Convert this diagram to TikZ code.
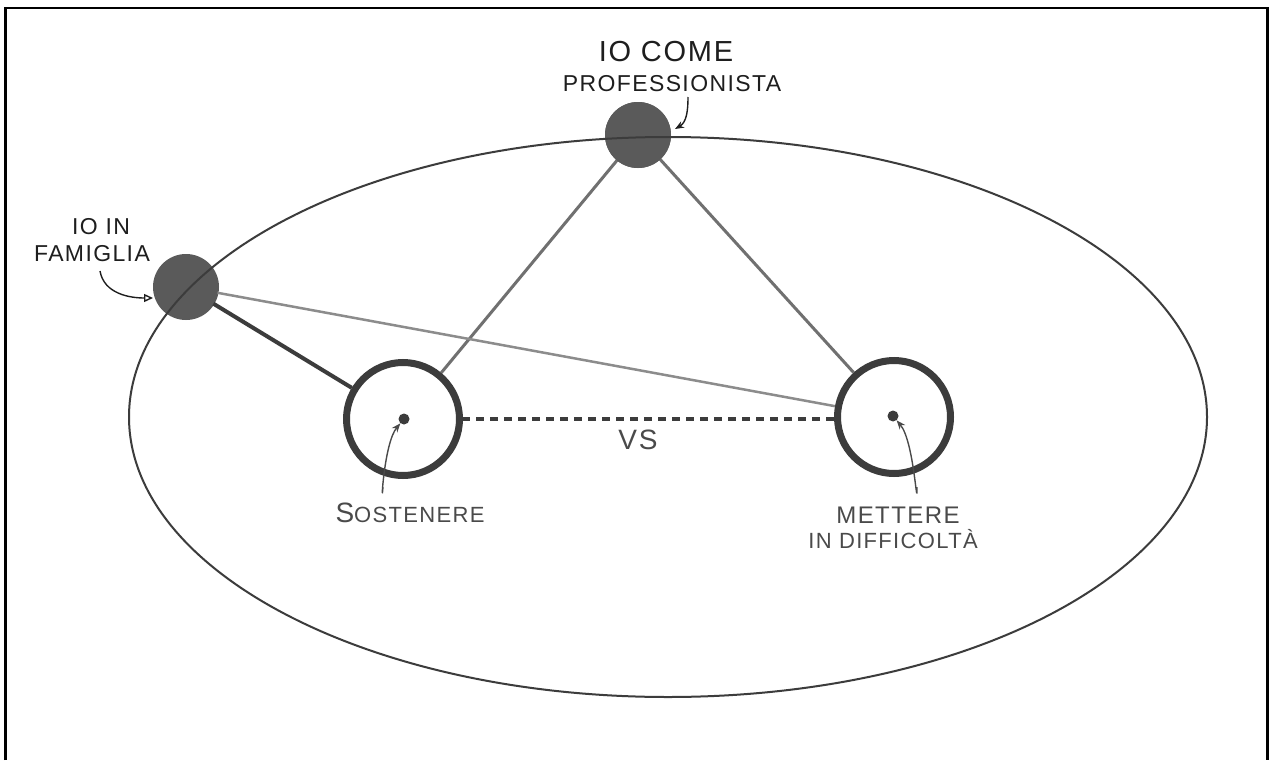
\documentclass[tikz,border=0pt]{standalone}
\usepackage{fontspec}
\setmainfont{Liberation Sans}
\newfontfamily\hand[LetterSpace=6]{Liberation Sans}
\usetikzlibrary{arrows.meta}
\definecolor{dotgray}{HTML}{5A5A5A}
\definecolor{ringgray}{HTML}{3C3C3C}
\definecolor{linegray}{HTML}{707070}
\definecolor{lightline}{HTML}{8C8C8C}
\definecolor{ink}{HTML}{1E1E1E}
\definecolor{softink}{HTML}{4A4A4A}
\tikzset{
  bigdot/.style={circle, fill=dotgray, draw=none, minimum size=66pt, inner sep=0pt},
  ring/.style={circle, draw=ringgray, line width=7pt, minimum size=113pt, inner sep=0pt},
  smalldot/.style={circle, fill=ringgray, minimum size=11pt, inner sep=0pt},
  boldlabel/.style={font=\hand\fontsize{23}{26}\selectfont, text=ink, inner sep=0pt},
  softlabel/.style={font=\hand\fontsize{21}{24}\selectfont, text=softink, inner sep=0pt},
  pointer/.style={draw=ink, line width=1.4pt, -{Stealth[length=9pt,width=7pt]}},
}
\begin{document}
\begin{tikzpicture}[x=1pt,y=-1pt]
\useasboundingbox (0,0) rectangle (1271,760);
\fill[white] (0,0) rectangle (1271,760);
% frame
\draw[black, line width=2.5pt] (5.5,760) -- (5.5,8) -- (1267.5,8) -- (1267.5,760);

% nodes
\node[bigdot] (prof) at (638,135) {};
\node[bigdot] (fam) at (186,287) {};
\node[ring] (sost) at (403,419) {};
\node[ring] (mett) at (894,417) {};
\node[smalldot] (sdot) at (404,419) {};
\node[smalldot] (mdot) at (893,416) {};

% connectors
\draw[linegray, line width=3pt] (prof.center) -- (sost);
\draw[linegray, line width=3pt] (prof.center) -- (mett);
\draw[ringgray, line width=4pt] (fam.center) -- (sost);
\draw[lightline, line width=2.5pt] (fam.center) -- (mett);
\coordinate (dvs) at (462,419);
\coordinate (dve) at (834,419);
\draw[ringgray, line width=4pt, dash pattern=on 8pt off 6pt] (dvs) -- (dve);

% redraw circles on top of connector starts
\fill[dotgray] (prof) circle (33pt);
\fill[dotgray] (fam) circle (32pt);

% big ellipse
\draw[ringgray, line width=2pt] (668,417) ellipse [x radius=539, y radius=280];

% labels
\node[boldlabel, font=\hand\fontsize{29}{30}\selectfont] (l1a) at (666,52) {IO COME};
\node[boldlabel] (l1b) at (672,84) {PROFESSIONISTA};
\node[boldlabel] (l2a) at (101,227) {IO IN};
\node[boldlabel] (l2b) at (92,254) {FAMIGLIA};
\node[softlabel, font=\hand\fontsize{28}{30}\selectfont] (vs) at (638,440) {VS};
\node[softlabel, font=\hand\fontsize{22}{24}\selectfont] (l3) at (410,513) {{\fontsize{28}{28}\selectfont S}OSTENERE};
\node[softlabel, font=\hand\fontsize{24}{26}\selectfont] (l4a) at (898,515) {METTERE};
\node[softlabel, font=\hand\fontsize{22}{24}\selectfont] (l4b) at (893,539) {IN DIFFICOLTÀ};

% pointer arrows
\coordinate (p1s) at (688,97);
\coordinate (p1e) at (675,129);
\draw[pointer] (p1s) to[out=-90, in=30] (p1e);
\coordinate (p2s) at (100,271);
\coordinate (p2e) at (153,298);
\draw[draw=ink, line width=1.4pt, -{Triangle[open, length=9pt, width=8pt]}] (p2s) to[out=-80, in=180] (p2e);
\coordinate (p3s) at (383,487);
\draw[pointer, draw=softink] (p3s) to[out=-95, in=-130] (sdot);
\coordinate (p4s) at (917,487);
\draw[pointer, draw=softink] (p4s) to[out=-90, in=-50] (mdot);
\end{tikzpicture}
\end{document}
